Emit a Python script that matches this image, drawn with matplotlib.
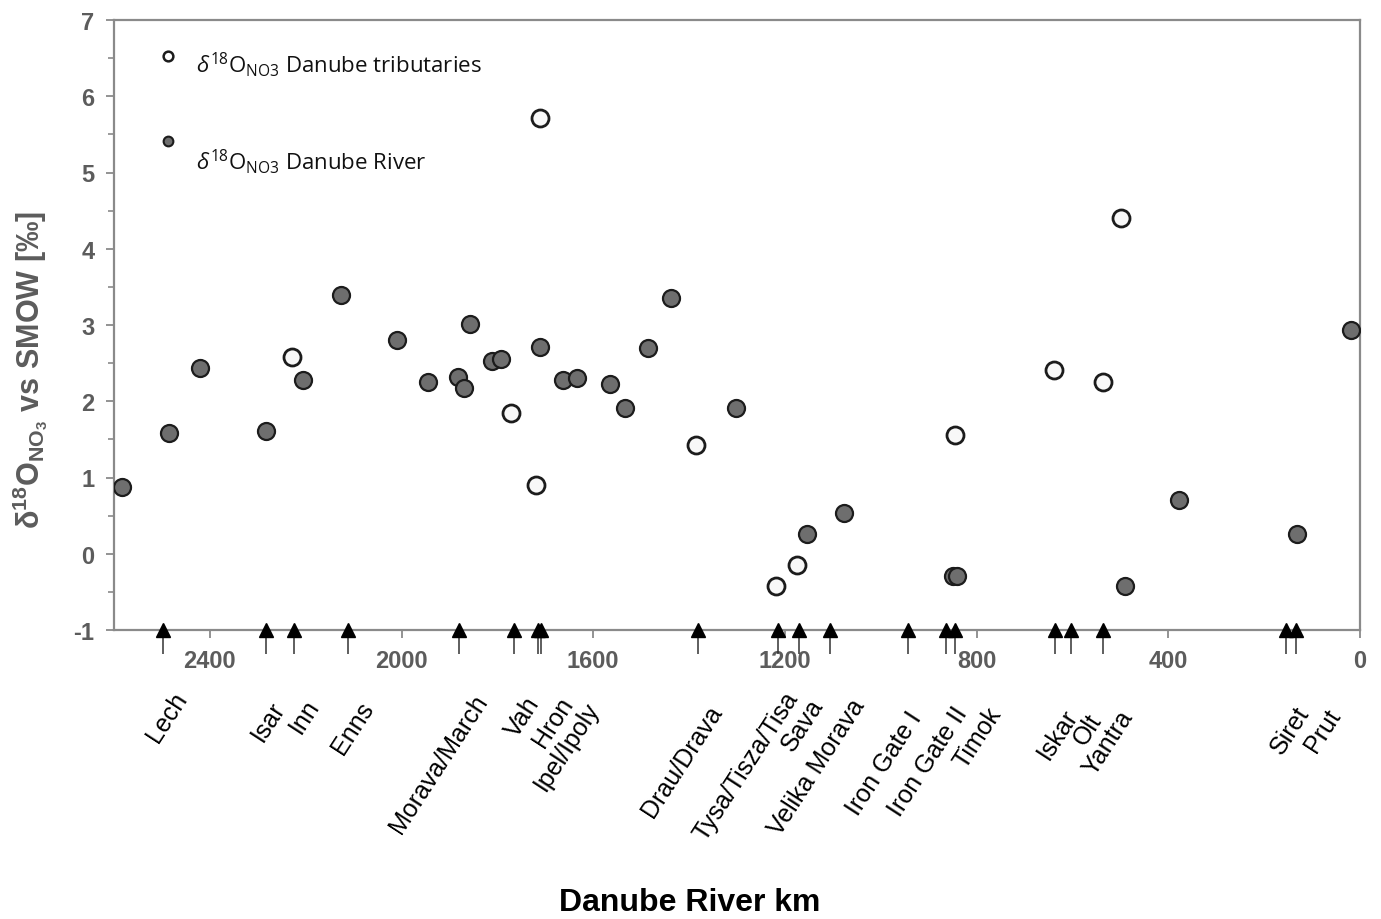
import matplotlib
matplotlib.use('Agg')
import matplotlib.pyplot as plt
from matplotlib.ticker import MultipleLocator

plt.rcParams['font.family'] = ['Liberation Sans', 'DejaVu Sans']
plt.rcParams['axes.unicode_minus'] = False
plt.rcParams['mathtext.fontset'] = 'custom'
plt.rcParams['mathtext.rm'] = 'Open Sans'
plt.rcParams['mathtext.it'] = 'Open Sans:italic'
plt.rcParams['mathtext.bf'] = 'Liberation Sans:bold'

# --- muestras del cauce principal del Danubio (km, d18O-NO3 permil) ---
rio_km = [2584, 2486, 2421, 2283, 2206, 2126, 2009, 1945, 1882, 1869,
          1857, 1811, 1792, 1711, 1663, 1633, 1564, 1533, 1485, 1437,
          1303, 1153, 1076, 850, 840, 491, 378, 132, 19]
rio_d18o = [0.87, 1.59, 2.44, 1.61, 2.28, 3.40, 2.80, 2.25, 2.32, 2.18,
            3.01, 2.53, 2.56, 2.71, 2.28, 2.31, 2.22, 1.91, 2.70, 3.35,
            1.91, 0.26, 0.53, -0.29, -0.29, -0.42, 0.70, 0.26, 2.93]

# --- muestras de afluentes ---
trib_km = [2229, 1771, 1719, 1711, 1385, 1218, 1174, 846, 639, 537, 499]
trib_d18o = [2.58, 1.84, 0.90, 5.72, 1.42, -0.42, -0.15, 1.56, 2.41, 2.25, 4.40]

# --- confluencias y presas a lo largo del rio ---
afluentes = ['Lech', 'Isar', 'Inn', 'Enns', 'Morava/March', 'Vah', 'Hron',
             'Ipel/Ipoly', 'Drau/Drava', 'Tysa/Tisza/Tisa', 'Sava',
             'Velika Morava', 'Iron Gate I', 'Iron Gate II', 'Timok',
             'Iskar', 'Olt', 'Yantra', 'Siret', 'Prut']
afluentes_km = [2497, 2282, 2225, 2112, 1880, 1766, 1716, 1708, 1382, 1215,
                1170, 1105, 943, 863, 846, 637, 604, 537, 155, 134]
# desplazamiento de cada etiqueta (px) respecto a su flecha
etiqueta_dx = [8, 3, 10, 10, 13, 10, 20, 42, 9, 5, 9, 19, -2, 6, 31, 8, 16, 15, 8, 29]
etiqueta_dy = [57, 67, 64, 67, 60, 62, 62, 67, 70, 57, 64, 64, 77, 72, 72, 74, 79, 75, 72, 74]

W, H = 1381, 920
fig = plt.figure(figsize=(W / 100, H / 100), dpi=100)
x0, x1, y0, y1 = 114, 1360, 21, 631
ax = fig.add_axes([x0 / W, 1 - y1 / H, (x1 - x0) / W, (y1 - y0) / H])

ax.scatter(trib_km, trib_d18o, s=150, facecolor='#f8f8f8', edgecolor='#1c1c1c',
           linewidths=2.0, zorder=3)
ax.scatter(rio_km, rio_d18o, s=150, facecolor='#6e6e6e', edgecolor='#1c1c1c',
           linewidths=1.6, zorder=3)

# flechas de confluencia sobre el eje x
trans = ax.get_xaxis_transform()
ax.vlines(afluentes_km, -24 / (y1 - y0), 0, transform=trans, colors='#333333',
          linewidth=1.1, clip_on=False, zorder=4)
ax.plot(afluentes_km, [-1] * len(afluentes_km), '^', color='black', ms=10,
        clip_on=False, zorder=5)

pt = 72 / 100
for nombre, km, dx, dy in zip(afluentes, afluentes_km, etiqueta_dx, etiqueta_dy):
    ax.annotate(nombre, xy=(km, -1), xycoords='data',
                xytext=(dx * pt, -dy * pt), textcoords='offset points',
                rotation=57, rotation_mode='anchor', ha='right', va='top',
                fontsize=18, color='black', annotation_clip=False)

ax.set_xlim(2600, 0)
ax.set_ylim(-1, 7)
ax.xaxis.set_major_locator(MultipleLocator(400))
ax.yaxis.set_major_locator(MultipleLocator(1))
ax.yaxis.set_minor_locator(MultipleLocator(0.5))

gris = '#5c5c5c'
for s in ax.spines.values():
    s.set_color('#8a8a8a')
    s.set_linewidth(1.6)
ax.tick_params(axis='both', which='major', direction='out', length=6, width=1.3,
               color='#8a8a8a', labelsize=17, labelcolor=gris, pad=8)
ax.tick_params(axis='y', which='minor', direction='out', length=4, width=1.2,
               color='#8a8a8a')
for lab in ax.get_xticklabels() + ax.get_yticklabels():
    lab.set_fontweight('bold')

# leyenda
ax.plot([0.0433], [0.941], 'o', ms=7, mfc='white', mec='#1c1c1c', mew=1.8,
        transform=ax.transAxes)
ax.plot([0.0433], [0.802], 'o', ms=7, mfc='#6e6e6e', mec='#1c1c1c', mew=1.5,
        transform=ax.transAxes)
ax.text(0.0658, 0.929, r'$\mathit{\delta}^{18}$O$_{\mathrm{NO3}}$ Danube tributaries',
        transform=ax.transAxes, family='Open Sans', fontsize=16, va='center',
        color='#111111')
ax.text(0.0658, 0.770, r'$\mathit{\delta}^{18}$O$_{\mathrm{NO3}}$ Danube River',
        transform=ax.transAxes, family='Open Sans', fontsize=16, va='center',
        color='#111111')

fig.text(30 / W, 1 - 370 / H, r'$\mathbf{\delta^{18}O_{NO_3}}$ vs SMOW [‰]',
         rotation=90, ha='center', va='center', fontsize=22, fontweight='bold',
         color=gris)
fig.text(690 / W, 1 - 903 / H, 'Danube River km', ha='center', va='center',
         fontsize=23, fontweight='bold', color='black')

fig.savefig('out.png', dpi=100, facecolor='white')
